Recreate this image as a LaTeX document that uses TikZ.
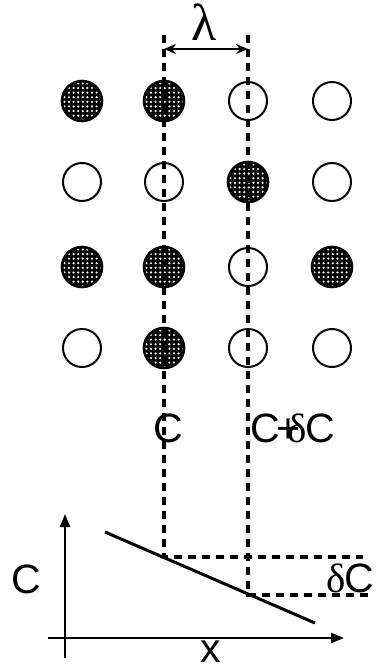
\documentclass[tikz,border=0pt]{standalone}
\usepackage{fontspec}
\setmainfont{Liberation Sans}
\newfontfamily\grk{Liberation Serif}
\usetikzlibrary{arrows.meta}
\begin{document}
\begin{tikzpicture}[x=1pt,y=-1pt,
  emptyc/.style={circle, minimum size=38pt, inner sep=0pt, draw=black, line width=2pt},
  fullc/.style={circle, minimum size=40pt, inner sep=0pt, draw=black, line width=2.6pt, fill=black,
    path picture={\foreach \i in {-4,...,4}{\foreach \j in {-4,...,4}{
      \fill[white, shift={(path picture bounding box.center)}] (\i*4.6+0.8,\j*4.6+0.8) circle (1.2);}}}},
  dsh/.style={line width=3.4pt, dash pattern=on 8pt off 6pt},
  lbl/.style={font=\fontsize{41}{41}\selectfont, inner sep=0pt},
  axarrow/.style={line width=2.2pt, -{Triangle[length=13pt,width=10pt]}}
]
\useasboundingbox (0,0) rectangle (376,670);
% grid of particles
\node[fullc]  (a11) at (82,101) {};
\node[fullc]  (a12) at (164,101) {};
\node[emptyc] (a13) at (248,101) {};
\node[emptyc] (a14) at (332,101) {};
\node[emptyc] (a21) at (82,182) {};
\node[emptyc] (a22) at (164,182) {};
\node[fullc]  (a23) at (248,182) {};
\node[emptyc] (a24) at (332,182) {};
\node[fullc]  (a31) at (82,267) {};
\node[fullc]  (a32) at (164,267) {};
\node[emptyc] (a33) at (248,267) {};
\node[fullc]  (a34) at (332,267) {};
\node[emptyc] (a41) at (82,348) {};
\node[fullc]  (a42) at (164,348) {};
\node[emptyc] (a43) at (248,348) {};
\node[emptyc] (a44) at (332,348) {};
% dashed guides
\coordinate (t1) at (164,35);
\coordinate (t2) at (248,35);
\coordinate (p1) at (164,557);
\coordinate (p2) at (248,595);
\coordinate (e1) at (363,557);
\coordinate (e2) at (368,595);
\draw[dsh] (t1) -- (p1) -- (e1);
\draw[dsh] (t2) -- (p2) -- (e2);
% lambda
\coordinate (l1) at (164,49);
\coordinate (l2) at (248,49);
\draw[line width=2.5pt, {Stealth[length=12pt,width=10pt]}-{Stealth[length=12pt,width=10pt]}] (l1) -- (l2);
\node[font=\grk\fontsize{52}{52}\selectfont, inner sep=0pt] (lam) at (204,22) {λ};
% labels
\node[lbl] (cl) at (168,428) {C};
\node[lbl] (cr) at (293,428) {C\kern-4pt+\kern-13pt{\grk δ}\kern-1pt C};
% axes
\coordinate (yo) at (65,658);
\coordinate (yt) at (65,514);
\coordinate (xo) at (48,638);
\coordinate (xt) at (344,638);
\draw[axarrow] (yo) -- (yt);
\draw[axarrow] (xo) -- (xt);
\coordinate (s1) at (105,532);
\coordinate (s2) at (315,623);
\draw[line width=3pt] (s1) -- (s2);
\node[lbl] (cy) at (26,579) {C};
\node[lbl, anchor=base] (xx) at (211,662) {x};
\node[lbl] (dc) at (350,578) {{\grk δ}\kern-1pt C};
\end{tikzpicture}
\end{document}
